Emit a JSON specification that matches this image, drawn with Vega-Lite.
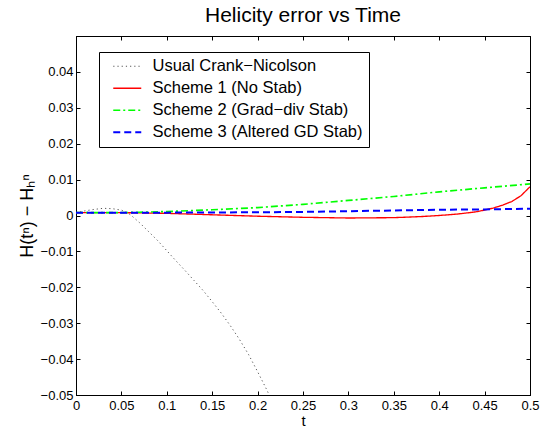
{
  "$schema": "https://vega.github.io/schema/vega-lite/v6.json",
  "autosize": {"type": "none"},
  "width": 454,
  "height": 359,
  "padding": {"left": 76, "top": 36, "right": 11, "bottom": 32},
  "background": "white",
  "title": {"text": "Helicity error vs Time", "fontSize": 21, "font": "Liberation Sans", "fontWeight": "normal", "color": "black", "anchor": "middle", "offset": 10},
  "config": {
    "view": {"stroke": "black", "strokeWidth": 1},
    "font": "Liberation Sans",
    "axis": {"grid": false, "domainColor": "black", "tickColor": "black", "labelColor": "black", "titleColor": "black", "labelFont": "Liberation Sans", "titleFont": "Liberation Sans", "labelFontSize": 13, "titleFontSize": 16, "titleFontWeight": "normal", "tickSize": -4, "labelFlush": false, "labelBound": false, "labelOverlap": false}
  },
  "data": {"values": [
    {"t": 0, "v": 0.0008, "s": "Usual Crank−Nicolson"},
    {"t": 0.01, "v": 0.0013, "s": "Usual Crank−Nicolson"},
    {"t": 0.02, "v": 0.0017, "s": "Usual Crank−Nicolson"},
    {"t": 0.03, "v": 0.0020, "s": "Usual Crank−Nicolson"},
    {"t": 0.04, "v": 0.0019, "s": "Usual Crank−Nicolson"},
    {"t": 0.05, "v": 0.0015, "s": "Usual Crank−Nicolson"},
    {"t": 0.055, "v": 0.0010, "s": "Usual Crank−Nicolson"},
    {"t": 0.06, "v": 0.0002, "s": "Usual Crank−Nicolson"},
    {"t": 0.07, "v": -0.0020, "s": "Usual Crank−Nicolson"},
    {"t": 0.08, "v": -0.0045, "s": "Usual Crank−Nicolson"},
    {"t": 0.09, "v": -0.0070, "s": "Usual Crank−Nicolson"},
    {"t": 0.10, "v": -0.0098, "s": "Usual Crank−Nicolson"},
    {"t": 0.11, "v": -0.0126, "s": "Usual Crank−Nicolson"},
    {"t": 0.12, "v": -0.0153, "s": "Usual Crank−Nicolson"},
    {"t": 0.13, "v": -0.0181, "s": "Usual Crank−Nicolson"},
    {"t": 0.14, "v": -0.0209, "s": "Usual Crank−Nicolson"},
    {"t": 0.15, "v": -0.0240, "s": "Usual Crank−Nicolson"},
    {"t": 0.16, "v": -0.0272, "s": "Usual Crank−Nicolson"},
    {"t": 0.17, "v": -0.0307, "s": "Usual Crank−Nicolson"},
    {"t": 0.18, "v": -0.0345, "s": "Usual Crank−Nicolson"},
    {"t": 0.19, "v": -0.0387, "s": "Usual Crank−Nicolson"},
    {"t": 0.20, "v": -0.0435, "s": "Usual Crank−Nicolson"},
    {"t": 0.21, "v": -0.0485, "s": "Usual Crank−Nicolson"},
    {"t": 0.215, "v": -0.0512, "s": "Usual Crank−Nicolson"},
    {"t": 0, "v": 0.0008, "s": "Scheme 1 (No Stab)"},
    {"t": 0.05, "v": 0.0008, "s": "Scheme 1 (No Stab)"},
    {"t": 0.1, "v": 0.0006, "s": "Scheme 1 (No Stab)"},
    {"t": 0.15, "v": 0.0002, "s": "Scheme 1 (No Stab)"},
    {"t": 0.2, "v": -0.0002, "s": "Scheme 1 (No Stab)"},
    {"t": 0.25, "v": -0.0005, "s": "Scheme 1 (No Stab)"},
    {"t": 0.3, "v": -0.0007, "s": "Scheme 1 (No Stab)"},
    {"t": 0.35, "v": -0.0006, "s": "Scheme 1 (No Stab)"},
    {"t": 0.38, "v": -0.0003, "s": "Scheme 1 (No Stab)"},
    {"t": 0.4, "v": 0.0000, "s": "Scheme 1 (No Stab)"},
    {"t": 0.42, "v": 0.0004, "s": "Scheme 1 (No Stab)"},
    {"t": 0.44, "v": 0.0010, "s": "Scheme 1 (No Stab)"},
    {"t": 0.45, "v": 0.0015, "s": "Scheme 1 (No Stab)"},
    {"t": 0.46, "v": 0.0021, "s": "Scheme 1 (No Stab)"},
    {"t": 0.47, "v": 0.0029, "s": "Scheme 1 (No Stab)"},
    {"t": 0.48, "v": 0.0039, "s": "Scheme 1 (No Stab)"},
    {"t": 0.49, "v": 0.0055, "s": "Scheme 1 (No Stab)"},
    {"t": 0.5, "v": 0.0080, "s": "Scheme 1 (No Stab)"},
    {"t": 0, "v": 0.0008, "s": "Scheme 2 (Grad−div Stab)"},
    {"t": 0.05, "v": 0.0008, "s": "Scheme 2 (Grad−div Stab)"},
    {"t": 0.07, "v": 0.0009, "s": "Scheme 2 (Grad−div Stab)"},
    {"t": 0.1, "v": 0.0011, "s": "Scheme 2 (Grad−div Stab)"},
    {"t": 0.15, "v": 0.0016, "s": "Scheme 2 (Grad−div Stab)"},
    {"t": 0.2, "v": 0.0022, "s": "Scheme 2 (Grad−div Stab)"},
    {"t": 0.25, "v": 0.0031, "s": "Scheme 2 (Grad−div Stab)"},
    {"t": 0.3, "v": 0.0042, "s": "Scheme 2 (Grad−div Stab)"},
    {"t": 0.35, "v": 0.0053, "s": "Scheme 2 (Grad−div Stab)"},
    {"t": 0.4, "v": 0.0066, "s": "Scheme 2 (Grad−div Stab)"},
    {"t": 0.45, "v": 0.0077, "s": "Scheme 2 (Grad−div Stab)"},
    {"t": 0.5, "v": 0.0088, "s": "Scheme 2 (Grad−div Stab)"},
    {"t": 0, "v": 0.0008, "s": "Scheme 3 (Altered GD Stab)"},
    {"t": 0.1, "v": 0.0008, "s": "Scheme 3 (Altered GD Stab)"},
    {"t": 0.2, "v": 0.0009, "s": "Scheme 3 (Altered GD Stab)"},
    {"t": 0.25, "v": 0.0010, "s": "Scheme 3 (Altered GD Stab)"},
    {"t": 0.3, "v": 0.0012, "s": "Scheme 3 (Altered GD Stab)"},
    {"t": 0.35, "v": 0.0014, "s": "Scheme 3 (Altered GD Stab)"},
    {"t": 0.4, "v": 0.0016, "s": "Scheme 3 (Altered GD Stab)"},
    {"t": 0.45, "v": 0.0017, "s": "Scheme 3 (Altered GD Stab)"},
    {"t": 0.5, "v": 0.0019, "s": "Scheme 3 (Altered GD Stab)"}
  ]},
  "layer": [
    {
      "mark": {"type": "line", "clip": true},
      "encoding": {
        "x": {"field": "t", "type": "quantitative", "scale": {"domain": [0, 0.5], "nice": false, "zero": false},
              "axis": {"orient": "bottom", "title": "t", "values": [0, 0.05, 0.1, 0.15, 0.2, 0.25, 0.3, 0.35, 0.4, 0.45, 0.5], "format": ".2~f", "labelPadding": 8, "titlePadding": 1, "titleFontSize": 15}},
        "y": {"field": "v", "type": "quantitative", "scale": {"domain": [-0.05, 0.05], "nice": false, "zero": false},
              "axis": {"orient": "left", "title": "H(tⁿ) − Hₕⁿ", "titleFontSize": 18, "values": [-0.05, -0.04, -0.03, -0.02, -0.01, 0, 0.01, 0.02, 0.03, 0.04], "format": ".2~f", "labelPadding": 7, "titlePadding": 4}},
        "color": {"field": "s", "type": "nominal",
                  "scale": {"domain": ["Usual Crank−Nicolson", "Scheme 1 (No Stab)", "Scheme 2 (Grad−div Stab)", "Scheme 3 (Altered GD Stab)"], "range": ["#555555", "#ff0000", "#00ff00", "#0000ff"]},
                  "legend": {"title": null, "orient": "none", "legendX": 23, "legendY": 16, "strokeColor": "black", "fillColor": "white", "padding": 6, "rowPadding": 5, "labelFontSize": 16.5, "labelFont": "Liberation Sans", "labelColor": "black", "symbolType": "M-2,0H2", "symbolSize": 196, "symbolOffset": 14, "labelOffset": 17, "symbolStrokeWidth": 2, "labelLimit": 400}},
        "strokeDash": {"field": "s", "type": "nominal",
                  "scale": {"domain": ["Usual Crank−Nicolson", "Scheme 1 (No Stab)", "Scheme 2 (Grad−div Stab)", "Scheme 3 (Altered GD Stab)"], "range": [[1.2, 3], [1, 0], [7, 3, 2, 3], [7, 4]]}},
        "strokeWidth": {"field": "s", "type": "nominal",
                  "scale": {"domain": ["Usual Crank−Nicolson", "Scheme 1 (No Stab)", "Scheme 2 (Grad−div Stab)", "Scheme 3 (Altered GD Stab)"], "range": [1, 2, 2, 2.2]}},
        "order": {"field": "t", "type": "quantitative"}
      }
    },
    {
      "mark": {"type": "line", "opacity": 0},
      "encoding": {
        "x": {"field": "t", "type": "quantitative", "axis": {"orient": "top", "title": null, "labels": false, "values": [0, 0.05, 0.1, 0.15, 0.2, 0.25, 0.3, 0.35, 0.4, 0.45, 0.5]}},
        "y": {"field": "v", "type": "quantitative", "axis": {"orient": "right", "title": null, "labels": false, "values": [-0.05, -0.04, -0.03, -0.02, -0.01, 0, 0.01, 0.02, 0.03, 0.04]}},
        "detail": {"field": "s"}
      }
    }
  ],
  "resolve": {"axis": {"x": "independent", "y": "independent"}}
}
